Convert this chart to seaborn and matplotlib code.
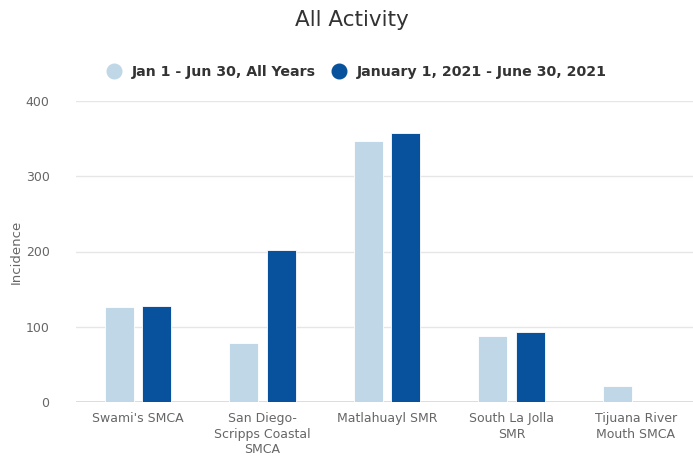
import numpy as np
import pandas as pd
import matplotlib
matplotlib.use("Agg")
import matplotlib.pyplot as plt
from matplotlib.lines import Line2D
import seaborn as sns

# data
sites = ["Swami's SMCA", "San Diego-\nScripps Coastal\nSMCA", "Matlahuayl SMR",
         "South La Jolla\nSMR", "Tijuana River\nMouth SMCA"]
all_years = [126, 78, 347, 88, 21]
year_2021 = [128, 202, 357, 93, 0]
series = ["Jan 1 - Jun 30, All Years", "January 1, 2021 - June 30, 2021"]
colors = ["#bfd7e6", "#08519c"]

df = pd.DataFrame({
    "site": sites * 2,
    "value": all_years + year_2021,
    "period": [series[0]] * len(sites) + [series[1]] * len(sites),
})

sns.set_style("white")
plt.rcParams["font.family"] = ["DejaVu Sans"]

fig = plt.figure(figsize=(6.93, 4.58), dpi=100)
W, H = 693, 458
ax = fig.add_axes([76 / W, 1 - 402 / H, 622 / W, 301 / H])

sns.barplot(data=df, x="site", y="value", hue="period", palette=colors,
            saturation=1, width=0.6, gap=0.22, edgecolor="white", linewidth=0.6,
            legend=False, ax=ax)

ax.set_ylim(0, 400)
ax.set_xlim(-0.5, len(sites) - 0.5)
ax.set_yticks([0, 100, 200, 300, 400])
ax.yaxis.grid(True, color="#e6e6e6", linewidth=1)
ax.set_axisbelow(True)
for s in ax.spines.values():
    s.set_visible(False)
ax.axhline(0, color="#ccd6eb", linewidth=1.2, zorder=0.5)

ax.tick_params(axis="both", length=0, colors="#666666", labelsize=9)
ax.tick_params(axis="y", pad=19)
ax.tick_params(axis="x", pad=7)
for lab in ax.get_xticklabels():
    lab.set_linespacing(1.28)
ax.set_xlabel("")
ax.set_ylabel("Incidence", color="#666666", fontsize=9.5, labelpad=2)

fig.text(352 / W, 1 - 20 / H, "All Activity", ha="center", va="center",
         fontsize=15.5, color="#333333")

handles = [Line2D([], [], marker="o", linestyle="", markersize=10.5,
                  markerfacecolor=c, markeredgecolor=c) for c in colors]
leg = fig.legend(handles, series, loc="center", bbox_to_anchor=(0.514, 1 - 72 / H),
                 ncol=2, frameon=False, handletextpad=0.7, columnspacing=1.0,
                 handlelength=1.2, prop={"weight": "bold", "size": 10.2})
for t in leg.get_texts():
    t.set_color("#333333")

fig.savefig("out.png", dpi=100)
